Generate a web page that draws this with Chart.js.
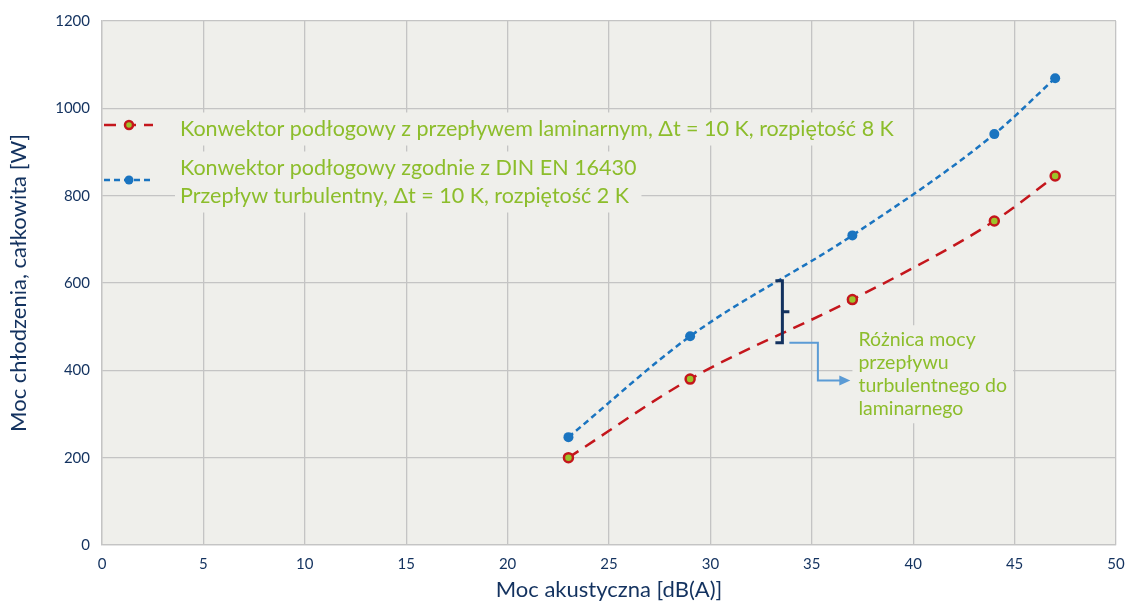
<!DOCTYPE html>
<html>
<head>
<meta charset="utf-8">
<script src="https://cdn.jsdelivr.net/npm/chart.js@4"></script>
<style>
  html, body { margin: 0; padding: 0; background: #ffffff; }
  #wrap { width: 1128px; height: 603px; }
</style>
</head>
<body>
<div id="wrap"><canvas id="cooling-chart" width="1128" height="603"></canvas></div>
<script>
//Data
var xValues = [23, 29, 37, 44, 47];
var laminarValues = [200, 380, 562, 742, 845];
var turbulentValues = [247, 478, 709, 941, 1069];

var xTicks = [0, 5, 10, 15, 20, 25, 30, 35, 40, 45, 50];
var yTicks = [0, 200, 400, 600, 800, 1000, 1200];

var laminarLegend = ["Konwektor podłogowy z przepływem laminarnym, Δt = 10 K, rozpiętość 8 K"];
var turbulentLegend = ["Konwektor podłogowy zgodnie z DIN EN 16430", "Przepływ turbulentny, Δt = 10 K, rozpiętość 2 K"];
var noteLines = ["Różnica mocy", "przepływu", "turbulentnego do", "laminarnego"];

var xTitle = "Moc akustyczna [dB(A)]";
var yTitle = "Moc chłodzenia, całkowita [W]";

//Colours
var plotBg = "#efefeb";
var gridColor = "#c4c4c4";
var navy = "#13325f";
var green = "#8cbd2b";
var red = "#c4161c";
var blue = "#1a74c0";
var fontName = "Lato";

function toPoints(xs, ys) {
  var pts = [];
  for (var i = 0; i < xs.length; i++) {
    pts.push({x: xs[i], y: ys[i]});
  }
  return pts;
}

//Background of the plot area
var plotBackground = {
  id: 'plotBackground',
  beforeDraw: function(chart) {
    var a = chart.chartArea;
    var ctx = chart.ctx;
    ctx.save();
    ctx.fillStyle = plotBg;
    ctx.fillRect(a.left, a.top, a.right - a.left, a.bottom - a.top);
    ctx.restore();
  }
};

function textBox(ctx, lines, x, yFirst, lineH, pad) {
  var w = 0;
  for (var i = 0; i < lines.length; i++) {
    w = Math.max(w, ctx.measureText(lines[i]).width);
  }
  ctx.fillStyle = plotBg;
  ctx.fillRect(x - pad, yFirst - lineH / 2 - pad / 2, w + pad * 2, lineH * lines.length + pad);
  ctx.fillStyle = green;
  for (var j = 0; j < lines.length; j++) {
    ctx.fillText(lines[j], x, yFirst + j * lineH);
  }
}

function legendMarker(ctx, ds, cx, cy, r) {
  ctx.save();
  ctx.strokeStyle = ds.borderColor;
  ctx.lineWidth = ds.borderWidth;
  ctx.setLineDash(ds.borderDash);
  ctx.beginPath();
  ctx.moveTo(cx - 25, cy);
  ctx.lineTo(cx + 24, cy);
  ctx.stroke();
  ctx.setLineDash([]);
  ctx.beginPath();
  ctx.arc(cx, cy, r, 0, Math.PI * 2);
  ctx.fillStyle = ds.pointBackgroundColor;
  ctx.fill();
  if (ds.pointBorderWidth > 0) {
    ctx.lineWidth = ds.pointBorderWidth;
    ctx.strokeStyle = ds.pointBorderColor;
    ctx.stroke();
  }
  ctx.restore();
}

//Legend inside the plot and the annotation bracket
var overlay = {
  id: 'overlay',
  afterDraw: function(chart) {
    var ctx = chart.ctx;
    var xs = chart.scales.x;
    var ys = chart.scales.y;
    var a = chart.chartArea;
    ctx.save();
    ctx.font = "21.5px " + fontName;
    ctx.textBaseline = "middle";
    ctx.textAlign = "left";

    //Legend
    var d0 = chart.data.datasets[0];
    var d1 = chart.data.datasets[1];
    legendMarker(ctx, d0, a.left + 27, a.top + 104, 4);
    textBox(ctx, laminarLegend, a.left + 78, a.top + 108, 28, 5);
    legendMarker(ctx, d1, a.left + 27, a.top + 159, 4.5);
    textBox(ctx, turbulentLegend, a.left + 78, a.top + 147, 28, 5);

    //Bracket between the two curves
    var bx = xs.getPixelForValue(33.5);
    var bTop = ys.getPixelForValue(605);
    var bBot = ys.getPixelForValue(463);
    var bMid = (bTop + bBot) / 2;
    ctx.strokeStyle = navy;
    ctx.lineWidth = 3;
    ctx.beginPath();
    ctx.moveTo(bx - 6, bTop);
    ctx.lineTo(bx + 1, bTop);
    ctx.lineTo(bx + 1, bBot);
    ctx.lineTo(bx - 6, bBot);
    ctx.moveTo(bx + 1, bMid);
    ctx.lineTo(bx + 8, bMid);
    ctx.stroke();

    //Arrow to the note
    var ax1 = xs.getPixelForValue(35.3);
    var ax2 = xs.getPixelForValue(36.9);
    var ay = ys.getPixelForValue(377);
    ctx.strokeStyle = "#5b9bd5";
    ctx.lineWidth = 2;
    ctx.beginPath();
    ctx.moveTo(bx + 8, bBot);
    ctx.lineTo(ax1, bBot);
    ctx.lineTo(ax1, ay);
    ctx.lineTo(ax2 - 10, ay);
    ctx.stroke();
    ctx.fillStyle = "#5b9bd5";
    ctx.beginPath();
    ctx.moveTo(ax2, ay);
    ctx.lineTo(ax2 - 11, ay - 5);
    ctx.lineTo(ax2 - 11, ay + 5);
    ctx.closePath();
    ctx.fill();

    //Note text
    ctx.font = "19.5px " + fontName;
    textBox(ctx, noteLines, xs.getPixelForValue(37.3), ys.getPixelForValue(470), 23, 6);
    ctx.restore();
  }
};

new Chart(document.getElementById("cooling-chart"), {
  type: 'line',
  data: {
    datasets: [{
      label: laminarLegend[0],
      data: toPoints(xValues, laminarValues),
      borderColor: red,
      borderWidth: 2.5,
      borderDash: [12, 8],
      pointRadius: 4.5,
      pointBorderWidth: 2.5,
      pointBorderColor: red,
      pointBackgroundColor: "#9cc32a",
      cubicInterpolationMode: 'monotone',
      fill: false
    }, {
      label: turbulentLegend.join(" "),
      data: toPoints(xValues, turbulentValues),
      borderColor: blue,
      borderWidth: 2.5,
      borderDash: [6, 4],
      pointRadius: 5,
      pointBorderWidth: 0,
      pointBorderColor: blue,
      pointBackgroundColor: blue,
      cubicInterpolationMode: 'monotone',
      fill: false
    }]
  },
  options: {
    responsive: false,
    animation: false,
    layout: {
      padding: {top: 19, right: 12, left: 0, bottom: 0}
    },
    plugins: {
      legend: {display: false},
      tooltip: {enabled: false}
    },
    scales: {
      x: {
        type: 'linear',
        min: 0,
        max: 50,
        afterBuildTicks: function(scale) {
          scale.ticks = xTicks.map(function(v) { return {value: v}; });
        },
        afterFit: function(scale) {
          scale.height = 58;
          scale.paddingRight = 0;
          scale.paddingLeft = 0;
        },
        grid: {color: gridColor, drawTicks: false, lineWidth: 1.3},
        border: {color: gridColor, width: 1.3},
        ticks: {color: navy, padding: 10, font: {family: fontName, size: 15}, callback: function(v) { return String(v); }},
        title: {display: true, text: xTitle, color: navy, padding: {top: 2, bottom: 0}, font: {family: fontName, size: 22}}
      },
      y: {
        type: 'linear',
        min: 0,
        max: 1200,
        afterBuildTicks: function(scale) {
          scale.ticks = yTicks.map(function(v) { return {value: v}; });
        },
        afterFit: function(scale) { scale.width = 102; },
        grid: {color: gridColor, drawTicks: false, lineWidth: 1.3},
        border: {color: gridColor, width: 1.3},
        ticks: {color: navy, padding: 12, font: {family: fontName, size: 15}, callback: function(v) { return String(v); }},
        title: {display: true, text: yTitle, color: navy, padding: {top: 6, bottom: 0}, font: {family: fontName, size: 22}}
      }
    }
  },
  plugins: [plotBackground, overlay]
});
</script>
</body>
</html>
